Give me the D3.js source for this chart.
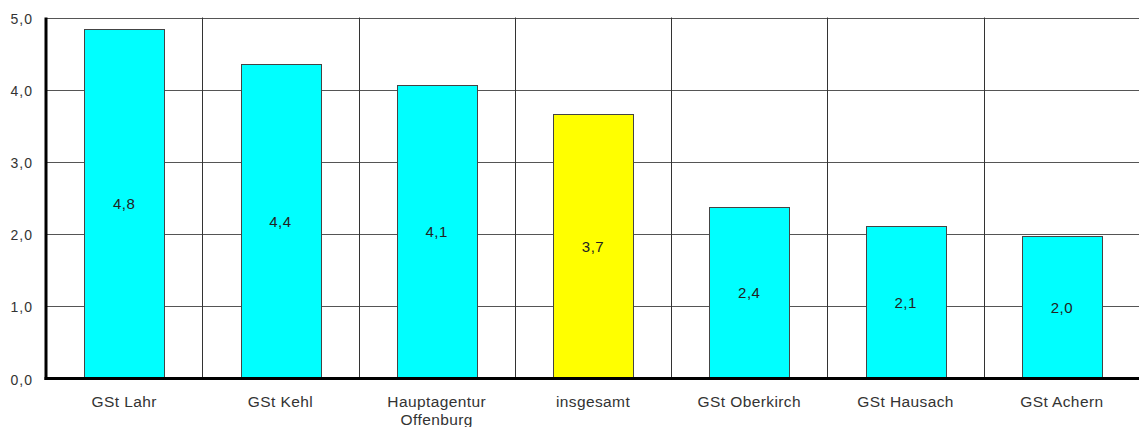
<!DOCTYPE html>
<html>
<head>
<meta charset="utf-8">
<script src="https://cdn.jsdelivr.net/npm/d3@7"></script>
<style>
  body { margin: 0; background: #fff; }
  text { font-family: "Liberation Sans", Arial, sans-serif; fill: #222; }
</style>
</head>
<body>
<script>
const categories = ["GSt Lahr", "GSt Kehl", "Hauptagentur\nOffenburg", "insgesamt", "GSt Oberkirch", "GSt Hausach", "GSt Achern"];
const values = [4.84, 4.36, 4.07, 3.66, 2.38, 2.11, 1.98];
const highlight = ["insgesamt"];
const yTicks = [0, 1, 2, 3, 4, 5];

let width = 1139, height = 427;
let margin = {top: 17.5, right: -1, bottom: 48.5, left: 46};

let svg = d3.select("body")
    .append("svg")
    .attr("width", width)
    .attr("height", height);

let x = d3.scaleBand()
    .domain(categories)
    .range([margin.left, width - margin.right])
    .paddingInner(0.49)
    .paddingOuter(0.245);

let y = d3.scaleLinear()
    .domain([0, 5])
    .range([height - margin.bottom, margin.top]);

let fmt = v => d3.format(".1f")(v).replace(".", ",");

// horizontal grid
svg.append("g")
    .selectAll("line")
    .data(yTicks)
    .join("line")
    .attr("x1", margin.left)
    .attr("x2", width)
    .attr("y1", d => Math.round(y(d)) + 0.5)
    .attr("y2", d => Math.round(y(d)) + 0.5)
    .style("stroke", "#555")
    .style("stroke-width", 1);

// vertical separators between categories
let step = x.step();
svg.append("g")
    .selectAll("line")
    .data(categories.slice(1))
    .join("line")
    .attr("x1", d => Math.round(x(d) - x.paddingInner() * step / 2) + 0.5)
    .attr("x2", d => Math.round(x(d) - x.paddingInner() * step / 2) + 0.5)
    .attr("y1", y(5))
    .attr("y2", y(0))
    .style("stroke", "#333")
    .style("stroke-width", 1);

// bars
svg.append("g")
    .selectAll("rect")
    .data(categories)
    .join("rect")
    .attr("x", d => Math.round(x(d)) + 0.5)
    .attr("y", (d, i) => Math.round(y(values[i])) + 0.5)
    .attr("width", Math.round(x.bandwidth()))
    .attr("height", (d, i) => Math.round(y(0)) - Math.round(y(values[i])))
    .style("fill", d => highlight.includes(d) ? "#ffff00" : "#00ffff")
    .style("stroke", "#444")
    .style("stroke-width", 1);

// value labels
svg.append("g")
    .selectAll("text")
    .data(categories)
    .join("text")
    .attr("x", d => x(d) + x.bandwidth() / 2)
    .attr("y", (d, i) => (y(values[i]) + y(0)) / 2 + 5.5)
    .attr("text-anchor", "middle")
    .style("font-size", "15px")
    .style("letter-spacing", "0.5px")
    .text((d, i) => fmt(values[i]));

// axes
let yAxis = svg.append("g")
    .attr("transform", `translate(${margin.left},0)`)
    .call(d3.axisLeft(y).tickValues(yTicks).tickSize(0).tickPadding(13).tickFormat(fmt));
yAxis.select(".domain").remove();
yAxis.selectAll("text")
    .style("font-size", "14px")
    .style("letter-spacing", "1px")
    .style("fill", "#333")
    .attr("dy", "0.4em");

let xAxis = svg.append("g")
    .attr("transform", `translate(0,${y(0)})`)
    .call(d3.axisBottom(x).tickSize(0).tickPadding(0));
xAxis.select(".domain").remove();
xAxis.selectAll("text").remove();
xAxis.selectAll(".tick")
    .append("text")
    .attr("text-anchor", "middle")
    .style("font-size", "15.5px")
    .style("letter-spacing", "0.4px")
    .style("fill", "#333")
    .selectAll("tspan")
    .data(d => d.split("\n"))
    .join("tspan")
    .attr("x", 0)
    .attr("y", (d, i) => 28.5 + i * 18)
    .text(d => d);

// thick axis lines
svg.append("line")
    .attr("x1", margin.left)
    .attr("x2", margin.left)
    .attr("y1", y(5))
    .attr("y2", y(0) + 1.5)
    .style("stroke", "#000")
    .style("stroke-width", 3);
svg.append("line")
    .attr("x1", margin.left - 1.5)
    .attr("x2", width)
    .attr("y1", y(0))
    .attr("y2", y(0))
    .style("stroke", "#000")
    .style("stroke-width", 3);
</script>
</body>
</html>
